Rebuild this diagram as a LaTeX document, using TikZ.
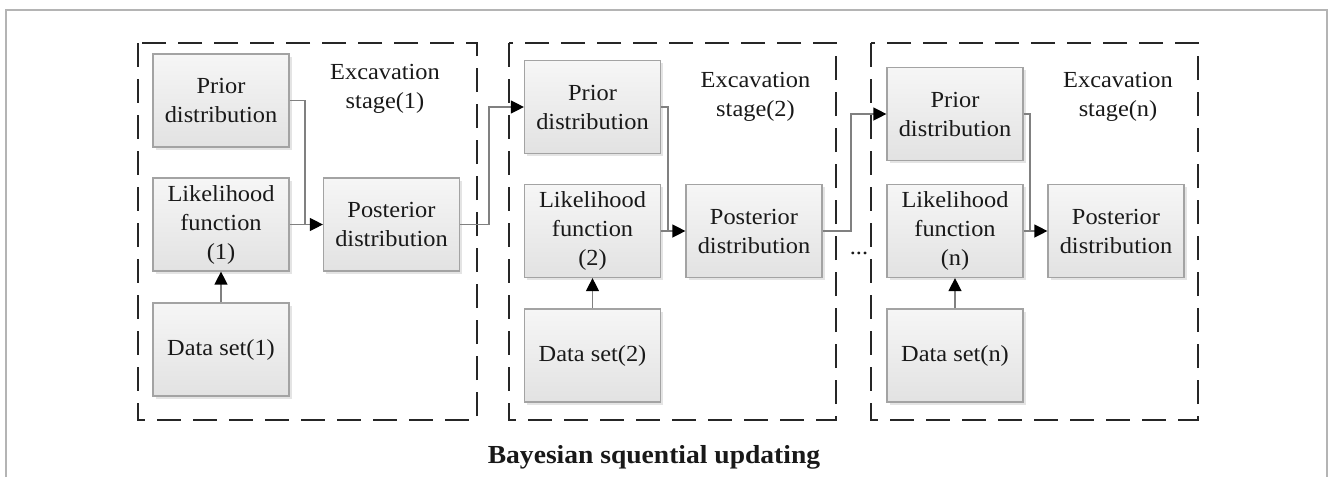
\documentclass[tikz,border=0pt]{standalone}
\usepackage{fontspec}
\setmainfont{Liberation Serif}[FakeStretch=1.06]
\usetikzlibrary{arrows.meta,shadows}
\definecolor{boxedge}{HTML}{A3A3A3}
\definecolor{boxtop}{HTML}{F6F6F6}
\definecolor{boxbot}{HTML}{E2E2E2}
\definecolor{wirec}{HTML}{808080}
\definecolor{dashc}{HTML}{262626}
\definecolor{framec}{HTML}{B4B4B4}
\tikzset{
  block/.style={draw=boxedge, line width=1.2pt, top color=boxtop, bottom color=boxbot,
    minimum width=136pt, minimum height=93pt, inner sep=0pt, align=center,
    font=\fontsize{23}{29}\selectfont, text=black!90,
    drop shadow={shadow xshift=2.5pt, shadow yshift=-2.5pt, opacity=0.3, fill=gray!70}},
  wire/.style={draw=wirec, line width=1.3pt},
  feed/.style={wire, -{Triangle[length=13pt, width=13pt, black]}},
  stagebox/.style={draw=dashc, line width=2.4pt, dash pattern=on 24pt off 12pt},
  stagelabel/.style={align=center, font=\fontsize{23}{29}\selectfont, inner sep=0pt, text=black!90}
}
\begin{document}
\begin{tikzpicture}[x=1pt, y=-1pt]
  \useasboundingbox (0,0) rectangle (1330,477);
  % Outer frame
  \draw[framec, line width=1.2pt] (6,477) -- (6,10) -- (1327,10) -- (1327,477);
  % Stage frames
  \draw[stagebox] (138,43) rectangle (477,420);
  \draw[stagebox] (509,43) rectangle (836,420);
  \draw[stagebox] (871,43) rectangle (1198,420);
  % Stage 1
  \node[block] (prior1) at (221,100.5) {Prior\\distribution};
  \node[block] (lik1)   at (221,224.5) {Likelihood\\function\\(1)};
  \node[block] (data1)  at (221,349.5) {Data set(1)};
  \node[block] (post1)  at (391.5,224.5) {Posterior\\distribution};
  \node[stagelabel] (stage1) at (385,89) {Excavation\\stage(1)};
  \coordinate (j1) at (305,224.5);
  % Stage 2
  \node[block] (prior2) at (592.5,107) {Prior\\distribution};
  \node[block] (lik2)   at (592.5,231) {Likelihood\\function\\(2)};
  \node[block] (data2)  at (592.5,355.5) {Data set(2)};
  \node[block] (post2)  at (754,231) {Posterior\\distribution};
  \node[stagelabel] (stage2) at (755.5,97) {Excavation\\stage(2)};
  \coordinate (j2) at (668,231);
  % Stage n
  \node[block] (prior3) at (955,114) {Prior\\distribution};
  \node[block] (lik3)   at (955,231) {Likelihood\\function\\(n)};
  \node[block] (data3)  at (955,355.5) {Data set(n)};
  \node[block] (post3)  at (1116,231) {Posterior\\distribution};
  \node[stagelabel] (stage3) at (1118,97) {Excavation\\stage(n)};
  \coordinate (j3) at (1030,231);
  % Links inside each stage
  \foreach \s in {1,2,3}{
    \draw[feed] (data\s.north) -- (lik\s.south);
    \draw[feed] (lik\s.east) -- (post\s.west);
    \draw[wire] (prior\s.east) -| (j\s);
  }
  % Posterior becomes next prior
  \coordinate (k1) at (489,224.5);
  \coordinate (k2) at (851,231);
  \draw[feed] (post1.east) -- (k1) |- (prior2.west);
  \draw[feed] (post2.east) -- (k2) |- (prior3.west);
  \node[stagelabel, anchor=base] (dots) at (859,254) {...};
  % Caption
  \node[font=\bfseries\fontsize{26}{30}\selectfont, anchor=base, text=black!90] (title) at (654,463) {Bayesian squential updating};
\end{tikzpicture}
\end{document}
